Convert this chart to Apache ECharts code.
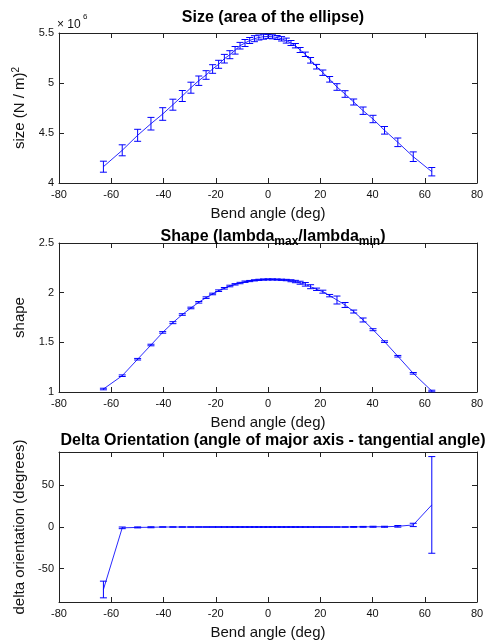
<!DOCTYPE html>
<html>
<head>
<meta charset="utf-8">
<script src="https://cdn.jsdelivr.net/npm/echarts@6/dist/echarts.min.js"></script>
<style>html,body{margin:0;padding:0;background:#fff}#c{width:494px;height:644px}</style>
</head>
<body>
<div id="c"></div>
<script>
// Bend angles (deg)
const angles = [-63.0,-55.8,-49.9,-44.8,-40.3,-36.4,-32.8,-29.5,-26.5,-23.7,-21.2,-18.9,-16.7,-14.6,-12.6,-10.7,-8.8,-7.0,-5.2,-3.5,-1.7,0,
  1.7,3.5,5.2,7.0,8.8,10.5,12.3,14.3,16.3,18.6,21.0,23.6,26.4,29.5,32.8,36.4,40.2,44.6,49.7,55.6,62.7];
// Size (x 10^6)
const sizeVals = [4.163,4.327,4.477,4.593,4.69,4.783,4.87,4.953,5.023,5.08,5.14,5.187,5.243,5.283,5.327,5.373,5.40,5.425,5.443,5.455,5.463,5.466,
  5.462,5.455,5.442,5.424,5.40,5.373,5.33,5.287,5.227,5.163,5.103,5.037,4.96,4.89,4.81,4.723,4.64,4.527,4.407,4.263,4.113];
const sizeErr = [0.055,0.055,0.06,0.063,0.063,0.055,0.055,0.055,0.047,0.043,0.043,0.04,0.043,0.04,0.038,0.033,0.035,0.03,0.03,0.025,0.025,0.02,
  0.02,0.02,0.022,0.025,0.025,0.022,0.025,0.022,0.028,0.023,0.027,0.028,0.033,0.033,0.03,0.037,0.037,0.038,0.043,0.048,0.042];
// Shape (lambda_max / lambda_min)
const shapeVals = [1.03,1.164,1.33,1.473,1.60,1.698,1.78,1.846,1.903,1.95,1.987,2.02,2.044,2.067,2.084,2.097,2.11,2.117,2.124,2.129,2.132,2.133,
  2.133,2.132,2.13,2.127,2.12,2.112,2.10,2.084,2.06,2.034,2.01,1.97,1.926,1.876,1.81,1.725,1.627,1.507,1.36,1.188,1.01];
const shapeErr = [0.008,0.008,0.008,0.008,0.008,0.01,0.008,0.008,0.008,0.008,0.008,0.008,0.008,0.008,0.007,0.007,0.007,0.006,0.006,0.006,0.006,0.006,
  0.006,0.006,0.006,0.007,0.01,0.012,0.015,0.018,0.02,0.012,0.015,0.012,0.04,0.025,0.015,0.02,0.01,0.008,0.008,0.008,0.008];
// Delta orientation (degrees)
const deltaVals = [-75,-1,-0.5,-0.3,0,0,0,0,0,0,0,0,0,0,0,0,0,0,0,0,0,0,
  0,0,0,0,0,0,0,0,0,0,0,0,0,0,0.1,0.2,0.3,0.3,0.8,2.5,26.5];
const deltaErr = [10,1,0.6,0.6,0.1,0.1,0.1,0.1,0.1,0.1,0.1,0.1,0.1,0.1,0.1,0.1,0.1,0.1,0.1,0.1,0.1,0.1,
  0.1,0.1,0.1,0.1,0.1,0.1,0.1,0.1,0.1,0.1,0.1,0.1,0.1,0.1,0.5,0.5,0.6,0.6,1,2,58];
const deltaTickLabels = [-50,0,50];

const FONT = '"Liberation Sans", Arial, sans-serif';
const AX = '#222';
const BLUE = '#0000ff';

const grids = [
  {left:59, right:17, top:33, height:150},
  {left:59, right:17, top:243, height:149},
  {left:59, right:17, top:452, height:150}
];
const yRanges = [
  {min:4, max:5.5, interval:0.5},
  {min:1, max:2.5, interval:0.5},
  {min:-90, max:90, interval:50, labels:deltaTickLabels}
];
const yNames = ['size (N / m){sup|2}', 'shape', 'delta orientation (degrees)'];

const xAxis = [], yAxis = [], series = [];
const datasets = [[sizeVals,sizeErr],[shapeVals,shapeErr],[deltaVals,deltaErr]];

for (let i = 0; i < 3; i++) {
  const tick = {show:true, inside:true, length:5, lineStyle:{color:AX}};
  xAxis.push({
    type:'value', gridIndex:i, min:-80, max:80, interval:20, position:'bottom',
    axisLine:{show:true, onZero:false, lineStyle:{color:AX, width:1}},
    axisTick:tick, splitLine:{show:false},
    axisLabel:{color:'#111', fontFamily:FONT, fontSize:11, margin:6},
    name:'Bend angle (deg)', nameLocation:'middle', nameGap:23,
    nameTextStyle:{fontFamily:FONT, fontSize:15, color:'#111'}
  });
  xAxis.push({
    type:'value', gridIndex:i, min:-80, max:80, interval:20, position:'top',
    axisLine:{show:true, onZero:false, lineStyle:{color:AX, width:1}},
    axisTick:tick, axisLabel:{show:false}, splitLine:{show:false}
  });
  const yr = yRanges[i];
  const lab = {color:'#111', fontFamily:FONT, fontSize:11, margin:5};
  const yt = yr.labels
    ? {show:true, inside:true, length:5, lineStyle:{color:AX}, customValues:yr.labels}
    : tick;
  const ylab = yr.labels ? Object.assign({}, lab, {customValues:yr.labels}) : lab;
  yAxis.push({
    type:'value', gridIndex:i, min:yr.min, max:yr.max, interval:yr.interval, position:'left',
    axisLine:{show:true, onZero:false, lineStyle:{color:AX, width:1}},
    axisTick:yt, splitLine:{show:false}, axisLabel:ylab,
    name:yNames[i], nameLocation:'middle', nameGap:26, nameRotate:90,
    nameTextStyle:{fontFamily:FONT, fontSize:15, color:'#111',
      rich:{sup:{fontFamily:FONT, fontSize:10, color:'#111', verticalAlign:'top', padding:[0,0,9,0]}}}
  });
  yAxis.push({
    type:'value', gridIndex:i, min:yr.min, max:yr.max, interval:yr.interval, position:'right',
    axisLine:{show:true, onZero:false, lineStyle:{color:AX, width:1}},
    axisTick:yt, axisLabel:{show:false}, splitLine:{show:false}
  });
  const vals = datasets[i][0], errs = datasets[i][1];
  series.push({
    type:'line', xAxisIndex:2*i, yAxisIndex:2*i, symbol:'none',
    data: angles.map((a,k)=>[a, vals[k]]),
    lineStyle:{color:'#2a2aff', width:1}, animation:false, z:2
  });
  series.push({
    type:'custom', xAxisIndex:2*i, yAxisIndex:2*i, animation:false, z:3,
    data: angles.map((a,k)=>[a, vals[k], errs[k]]),
    renderItem: function(params, api){
      const x = api.value(0), y = api.value(1), e = api.value(2);
      const p1 = api.coord([x, y + e]);
      const p2 = api.coord([x, y - e]);
      const hw = 3.5;
      const st = {stroke:BLUE, lineWidth:1};
      return {type:'group', children:[
        {type:'line', shape:{x1:p1[0], y1:p1[1], x2:p2[0], y2:p2[1]}, style:st},
        {type:'line', shape:{x1:p1[0]-hw, y1:p1[1], x2:p1[0]+hw, y2:p1[1]}, style:st},
        {type:'line', shape:{x1:p2[0]-hw, y1:p2[1], x2:p2[0]+hw, y2:p2[1]}, style:st}
      ]};
    }
  });
}

const titleStyle = {fontFamily:FONT, fontSize:16, fontWeight:'bold', color:'#000'};
const option = {
  animation:false,
  backgroundColor:'#fff',
  grid:grids,
  xAxis:xAxis, yAxis:yAxis, series:series,
  title:[
    {text:'Size (area of the ellipse)', left:268, top:5, textAlign:'center', textStyle:titleStyle},
    {text:'Shape (lambda{sub|max}/lambda{sub|min})', left:268, top:220, textAlign:'center',
      textStyle:Object.assign({}, titleStyle, {rich:{sub:{fontFamily:FONT, fontSize:12, color:'#000', verticalAlign:'bottom', padding:[11,0,0,0]}}})},
    {text:'Delta Orientation (angle of major axis - tangential angle)', left:268, top:428, textAlign:'center', textStyle:titleStyle}
  ],
  graphic:[
    {type:'text', left:57, top:19, style:{text:'\u00d7 10', font:'12px ' + FONT, fill:'#111'}},
    {type:'text', left:83, top:13, style:{text:'6', font:'8px ' + FONT, fill:'#111'}}
  ]
};
const chart = echarts.init(document.getElementById('c'), null, {renderer:'canvas'});
chart.setOption(option);
</script>
</body>
</html>
